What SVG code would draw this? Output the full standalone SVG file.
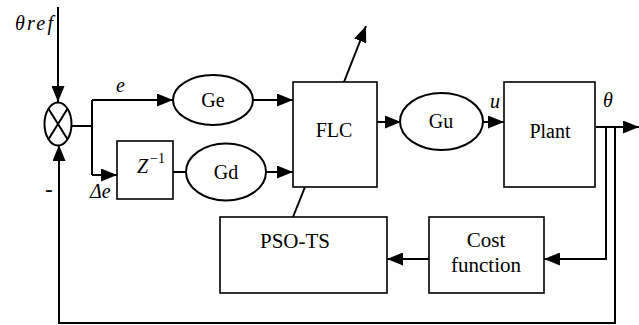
<svg xmlns="http://www.w3.org/2000/svg" width="639" height="325" viewBox="0 0 639 325" font-family="Liberation Serif">
<style>
.box{fill:#fff;stroke:#000;stroke-width:1.6}
.ell{fill:#fff;stroke:#000;stroke-width:2}
.ln{fill:none;stroke:#000;stroke-width:2}
.lbl{font-family:'Liberation Serif',serif;font-size:20px;fill:#000;text-anchor:middle}
.big{font-size:21px}
.math{font-family:'Liberation Serif',serif;font-style:italic;font-size:20px;fill:#000}
</style>
<defs>
<marker id="ah" markerUnits="userSpaceOnUse" markerWidth="16" markerHeight="13" refX="16" refY="6.5" orient="auto">
<path d="M0,0 L16,6.5 L0,13 z" fill="#000"/>
</marker>
</defs>
<rect width="639" height="325" fill="#fff"/>
<g id="connectors">
<path class="ln" d="M58,7 L58,102" marker-end="url(#ah)"/>
<path class="ln" d="M71,126 L92,126 M92,100 L92,175"/>
<path class="ln" d="M92,100 L173,100" marker-end="url(#ah)"/>
<path class="ln" d="M92,175 L117,175" marker-end="url(#ah)"/>
<path class="ln" d="M173,172 L186,172"/>
<path class="ln" d="M253,100 L293,100" marker-end="url(#ah)"/>
<path class="ln" d="M266,172 L293,172" marker-end="url(#ah)"/>
<path class="ln" d="M344,82 L366,26" marker-end="url(#ah)"/>
<path class="ln" d="M377,122 L401,122" marker-end="url(#ah)"/>
<path class="ln" d="M483,122 L504,122" marker-end="url(#ah)"/>
<path class="ln" d="M596,127 L639,127" marker-end="url(#ah)"/>
<path class="ln" d="M606,127 L606,259 L544,259" marker-end="url(#ah)"/>
<path class="ln" d="M429,259 L387,259" marker-end="url(#ah)"/>
<path class="ln" d="M615,127 L615,323 L59,323 L59,145" marker-end="url(#ah)"/>
<path class="ln" d="M305,187 L293,217"/>
</g>
<g id="summer">
<ellipse class="ell" cx="58" cy="124" rx="13.5" ry="21.5"/>
<path class="ln" d="M48.5,108.7 L67.5,139.3 M67.5,108.7 L48.5,139.3"/>
</g>
<g id="Ge">
<ellipse class="ell" cx="213" cy="100" rx="40" ry="25"/>
<text class="lbl" x="213" y="107">Ge</text>
</g>
<g id="Zinv">
<rect class="box" x="117" y="141" width="56" height="58"/>
<text class="math" x="137" y="173">Z</text>
<text x="150" y="163" font-family="Liberation Serif" font-size="14">−1</text>
</g>
<g id="Gd">
<ellipse class="ell" cx="226" cy="172" rx="40" ry="28.5"/>
<text class="lbl" x="226" y="179">Gd</text>
</g>
<g id="FLC">
<rect class="box" x="293" y="82" width="84" height="105"/>
<text class="lbl" x="334" y="137">FLC</text>
</g>
<g id="Gu">
<ellipse class="ell" cx="441.5" cy="121.5" rx="41.5" ry="28.5"/>
<text class="lbl" x="441" y="128">Gu</text>
</g>
<g id="Plant">
<rect class="box" x="504" y="82" width="91" height="105"/>
<text class="lbl" x="550" y="138">Plant</text>
</g>
<g id="PSO-TS">
<rect class="box" x="220" y="217" width="167" height="76"/>
<text class="lbl big" x="295" y="248">PSO-TS</text>
</g>
<g id="Cost">
<rect class="box" x="429" y="217" width="115" height="76"/>
<text class="lbl big" x="486" y="247">Cost</text>
<text class="lbl big" x="486" y="272">function</text>
</g>
<g id="labels">
<text class="math" x="15" y="30" textLength="38">θref</text>
<text class="math" x="116" y="92">e</text>
<text class="math" x="90" y="198">Δe</text>
<text class="math" x="490" y="108">u</text>
<text class="math" x="603" y="107">θ</text>
<text x="49" y="196" font-family="Liberation Serif" font-size="22" font-weight="bold" text-anchor="middle">-</text>
</g>
</svg>
